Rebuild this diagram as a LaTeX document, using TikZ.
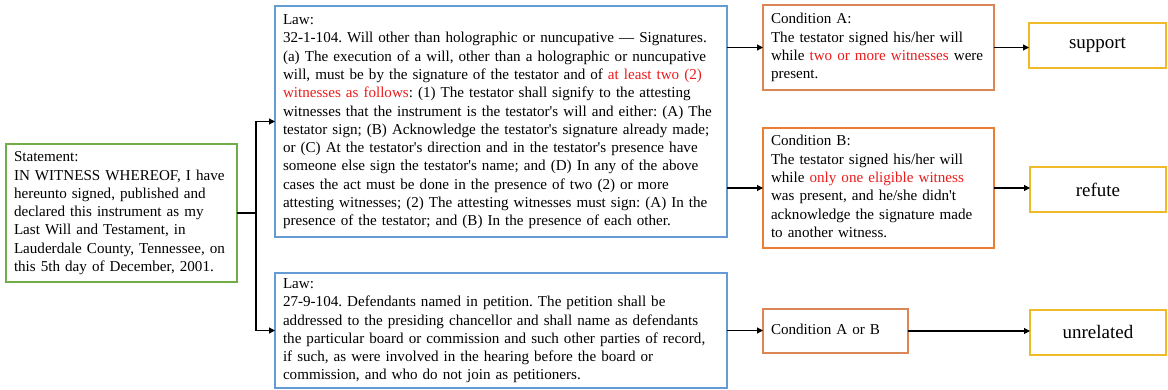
\documentclass[tikz,border=0pt]{standalone}
\usepackage{fontspec}
\setmainfont{Liberation Serif}[Ligatures=TeXOff]
\usetikzlibrary{arrows.meta}
\definecolor{cgreen}{RGB}{112,173,71}
\definecolor{cblue}{RGB}{100,155,213}
\definecolor{corange}{RGB}{237,125,49}
\definecolor{corangeb}{RGB}{218,135,85}
\definecolor{cyellow}{RGB}{240,187,40}
\definecolor{ctxtred}{RGB}{235,28,28}
\newcommand{\rd}[1]{{\color{ctxtred}#1}}
\frenchspacing
\begin{document}
\begin{tikzpicture}[x=1pt,y=-1pt,
  box/.style={draw, line width=1.8pt, outer sep=0pt, anchor=north west, inner xsep=8pt, inner ysep=0pt, align=left, font=\fontsize{15.1}{18.3}\selectfont\frenchspacing},
  res/.style={draw=cyellow, line width=1.8pt, outer sep=0pt, anchor=north west, minimum width=136pt, minimum height=45pt, inner sep=0pt, font=\fontsize{19}{22}\selectfont},
  arr/.style={line width=1.1pt, -{Triangle[length=6pt,width=6pt]}},
  ln/.style={line width=1.1pt}]
\useasboundingbox (0,0) rectangle (1168,390);

\node[box, draw=cgreen, text width=215pt, minimum height=138pt] (stmt) at (6,144) {\noindent\begin{tabular}{@{}l@{}}Statement:\\
IN WITNESS WHEREOF, I have\\
hereunto signed, published and\\
declared this instrument as my\\
Last Will and Testament, in\\
Lauderdale County, Tennessee, on\\
this 5th day of December, 2001.\end{tabular}};

\node[box, draw=cblue, text width=436pt, minimum height=231pt] (law1) at (275,6) {\noindent\begin{tabular}{@{}l@{}}Law:\\
32-1-104. Will other than holographic or nuncupative — Signatures.\\
(a) The execution of a will, other than a holographic or nuncupative\\
will, must be by the signature of the testator and of \rd{at least two (2)}\\
\rd{witnesses as follows}: (1) The testator shall signify to the attesting\\
witnesses that the instrument is the testator's will and either: (A) The\\
testator sign; (B) Acknowledge the testator's signature already made;\\
or (C) At the testator's direction and in the testator's presence have\\
someone else sign the testator's name; and (D) In any of the above\\
cases the act must be done in the presence of two (2) or more\\
attesting witnesses; (2) The attesting witnesses must sign: (A) In the\\
presence of the testator; and (B) In the presence of each other.\end{tabular}};

\node[box, draw=cblue, text width=436pt, minimum height=115pt] (law2) at (275,273) {\noindent\begin{tabular}{@{}l@{}}Law:\\
27-9-104. Defendants named in petition. The petition shall be\\
addressed to the presiding chancellor and shall name as defendants\\
the particular board or commission and such other parties of record,\\
if such, as were involved in the hearing before the board or\\
commission, and who do not join as petitioners.\end{tabular}};

\node[box, draw=corangeb, text width=215pt, minimum height=85pt] (condA) at (763,5) {\noindent\begin{tabular}{@{}l@{}}Condition A:\\
The testator signed his/her will\\
while \rd{two or more witnesses} were\\
present.\end{tabular}};

\node[box, draw=corange, text width=215pt, minimum height=120pt] (condB) at (763,128) {\noindent\begin{tabular}{@{}l@{}}Condition B:\\
The testator signed his/her will\\
while \rd{only one eligible witness}\\
was present, and he/she didn't\\
acknowledge the signature made\\
to another witness.\end{tabular}};

\node[box, draw=corangeb, text width=129pt, minimum height=44pt] (condAB) at (763,309) {\noindent\begin{tabular}{@{}l@{}}Condition A or B\end{tabular}};

\node[res, minimum width=137pt] (support) at (1029,23) {support};
\node[res] (refute) at (1030,167) {refute};
\node[res] (unrel) at (1030,310) {unrelated};

\coordinate (j) at (256,213);
\draw[ln] (stmt.east) -- (j);
\draw[arr] (j) |- (law1.west);
\draw[arr] (j) |- (law2.west);
\draw[arr] (law1.east |- condA.west) -- (condA.west);
\draw[arr] (law1.east |- condB.west) -- (condB.west);
\draw[arr] (condA.east) -- (condA.east -| support.west);
\draw[arr] (condB.east) -- (condB.east -| refute.west);
\draw[arr] (law2.east) -- (law2.east -| condAB.west);
\draw[arr] (condAB.east) -- (condAB.east -| unrel.west);
\end{tikzpicture}
\end{document}
